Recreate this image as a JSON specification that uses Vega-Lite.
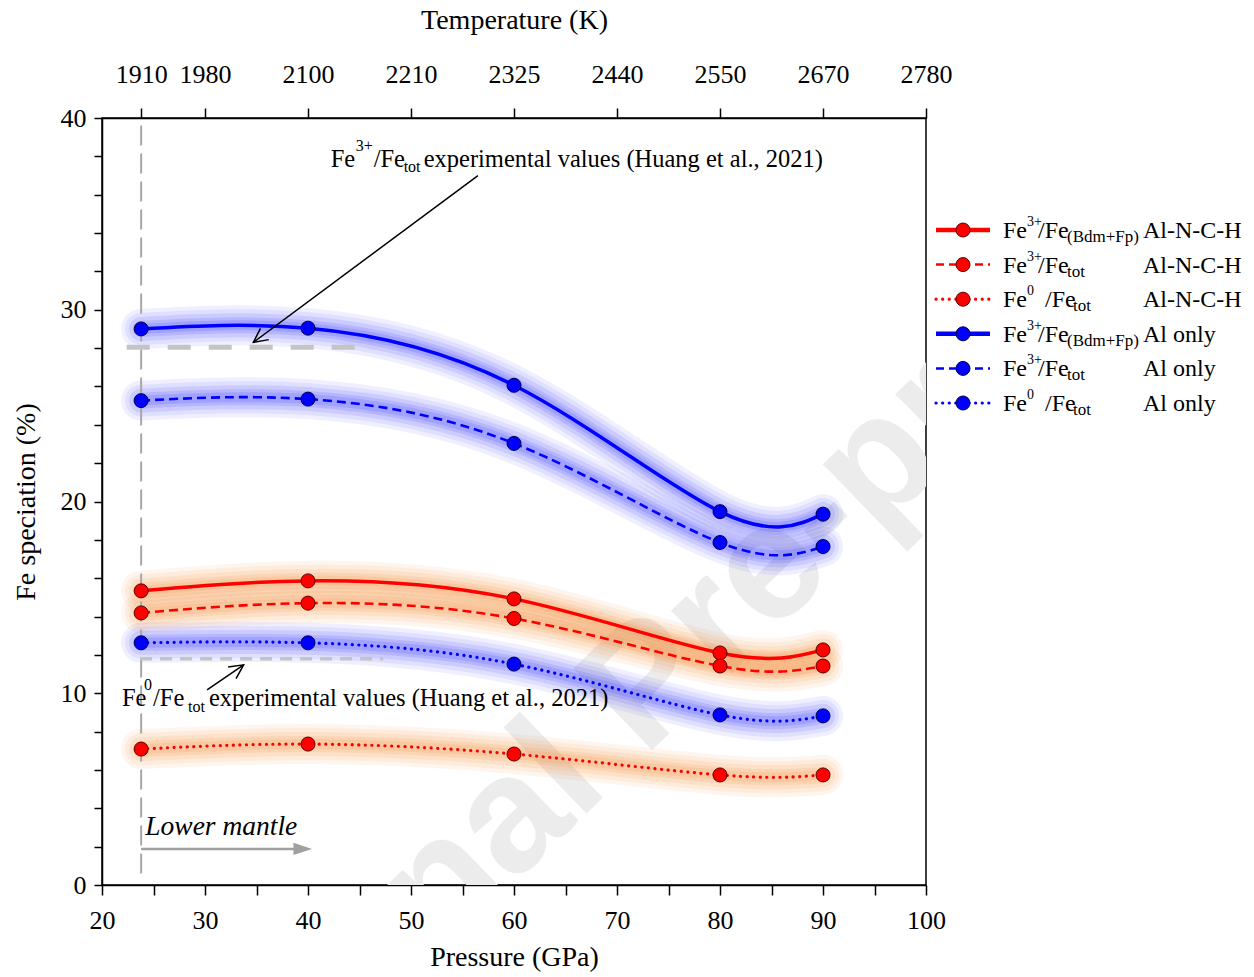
{
  "$schema": "https://vega.github.io/schema/vega-lite/v6.json",
  "background": "white",
  "padding": {"left": 11, "top": 5, "right": 5, "bottom": 5},
  "bounds": "flush",
  "spacing": 7,
  "config": {
    "font": "Liberation Serif",
    "view": {"stroke": null},
    "axis": {"domainColor": "#000", "domainWidth": 1.5, "tickColor": "#000", "tickWidth": 1.5, "labelFont": "Liberation Serif", "labelFontSize": 26, "labelColor": "#000", "titleFont": "Liberation Serif", "titleFontSize": 28, "titleFontWeight": "normal", "titleColor": "#000", "grid": false, "labelFlush": false, "labelOverlap": false},
    "text": {"font": "Liberation Serif", "color": "#000"}
  },
  "datasets": {
    "pts": [
      {"s": "A1", "g": "A", "st": "solid", "x": 23.8, "y": 15.34},
      {"s": "A1", "g": "A", "st": "solid", "x": 40, "y": 15.86},
      {"s": "A1", "g": "A", "st": "solid", "x": 60, "y": 14.92},
      {"s": "A1", "g": "A", "st": "solid", "x": 80, "y": 12.1},
      {"s": "A1", "g": "A", "st": "solid", "x": 90, "y": 12.26},
      {"s": "A2", "g": "A", "st": "dashed", "x": 23.8, "y": 14.19},
      {"s": "A2", "g": "A", "st": "dashed", "x": 40, "y": 14.7},
      {"s": "A2", "g": "A", "st": "dashed", "x": 60, "y": 13.9},
      {"s": "A2", "g": "A", "st": "dashed", "x": 80, "y": 11.42},
      {"s": "A2", "g": "A", "st": "dashed", "x": 90, "y": 11.42},
      {"s": "A3", "g": "A", "st": "dotted", "x": 23.8, "y": 7.09},
      {"s": "A3", "g": "A", "st": "dotted", "x": 40, "y": 7.35},
      {"s": "A3", "g": "A", "st": "dotted", "x": 60, "y": 6.83},
      {"s": "A3", "g": "A", "st": "dotted", "x": 80, "y": 5.74},
      {"s": "A3", "g": "A", "st": "dotted", "x": 90, "y": 5.74},
      {"s": "B1", "g": "B", "st": "solid", "x": 23.8, "y": 29.0},
      {"s": "B1", "g": "B", "st": "solid", "x": 40, "y": 29.04},
      {"s": "B1", "g": "B", "st": "solid", "x": 60, "y": 26.06},
      {"s": "B1", "g": "B", "st": "solid", "x": 80, "y": 19.47},
      {"s": "B1", "g": "B", "st": "solid", "x": 90, "y": 19.34},
      {"s": "B2", "g": "B", "st": "dashed", "x": 23.8, "y": 25.26},
      {"s": "B2", "g": "B", "st": "dashed", "x": 40, "y": 25.34},
      {"s": "B2", "g": "B", "st": "dashed", "x": 60, "y": 23.03},
      {"s": "B2", "g": "B", "st": "dashed", "x": 80, "y": 17.86},
      {"s": "B2", "g": "B", "st": "dashed", "x": 90, "y": 17.65},
      {"s": "B3", "g": "B", "st": "dotted", "x": 23.8, "y": 12.63},
      {"s": "B3", "g": "B", "st": "dotted", "x": 40, "y": 12.63},
      {"s": "B3", "g": "B", "st": "dotted", "x": 60, "y": 11.52},
      {"s": "B3", "g": "B", "st": "dotted", "x": 80, "y": 8.87},
      {"s": "B3", "g": "B", "st": "dotted", "x": 90, "y": 8.82}
    ],
    "segs": [
      {"id": "vline", "x": 23.8, "x2": 23.8, "y": 0.6, "y2": 40},
      {"id": "exp3", "x": 22.4, "x2": 44.8, "y": 28.05, "y2": 28.05},
      {"id": "exp0", "x": 23.7, "x2": 47.3, "y": 11.8, "y2": 11.8},
      {"id": "arr1", "x": 56.5, "x2": 34.7, "y": 37.0, "y2": 28.3},
      {"id": "arr2", "x": 30.2, "x2": 33.75, "y": 10.17, "y2": 11.48},
      {"id": "lm", "x": 23.8, "x2": 38.8, "y": 1.88, "y2": 1.88}
    ],
    "heads": [
      {"id": "h1", "x": 34.7, "y": 28.3},
      {"id": "h2", "x": 33.75, "y": 11.48},
      {"id": "h3", "x": 40.4, "y": 1.88}
    ],
    "notes": [
      {"id": "n1", "x": 42.2, "y": 37.45, "t1": "Fe", "t2": "3+", "t3": "/Fe", "t4": "tot", "t5": "experimental values (Huang et al., 2021)"},
      {"id": "n2", "x": 21.94, "y": 9.34, "t1": "Fe", "t2": "0", "t3": "/Fe", "t4": "tot", "t5": "experimental values (Huang et al., 2021)"},
      {"id": "lm", "x": 24.2, "y": 2.6, "t1": "Lower mantle"},
      {"id": "wm", "x": 76.0, "y": 12.0, "t1": "Journal Pre-proofs"}
    ],
    "leg": [
      {"s": "A1", "g": "A", "st": "solid", "k": "b", "sup": "3+", "sub": "(Bdm+Fp)", "grp": "Al-N-C-H"},
      {"s": "A2", "g": "A", "st": "dashed", "k": "t", "sup": "3+", "sub": "tot", "grp": "Al-N-C-H"},
      {"s": "A3", "g": "A", "st": "dotted", "k": "z", "sup": "0", "sub": "tot", "grp": "Al-N-C-H"},
      {"s": "B1", "g": "B", "st": "solid", "k": "b", "sup": "3+", "sub": "(Bdm+Fp)", "grp": "Al only"},
      {"s": "B2", "g": "B", "st": "dashed", "k": "t", "sup": "3+", "sub": "tot", "grp": "Al only"},
      {"s": "B3", "g": "B", "st": "dotted", "k": "z", "sup": "0", "sub": "tot", "grp": "Al only"}
    ]
  },
  "hconcat": [
    {
      "width": 824,
      "height": 767,
      "view": {"stroke": "#000", "strokeWidth": 1.5},
      "encoding": {
        "y": {"field": "y", "type": "quantitative", "scale": {"domain": [0, 40], "nice": false, "zero": false},
          "axis": {"orient": "left", "values": [0, 2, 4, 6, 8, 10, 12, 14, 16, 18, 20, 22, 24, 26, 28, 30, 32, 34, 36, 38, 40], "labelOverlap": false,
            "labelExpr": "datum.value % 10 === 0 ? datum.label : ' '", "title": "Fe speciation (%)", "tickSize": 8, "labelPadding": 8, "titlePadding": 20}}
      },
      "layer": [
        {
          "data": {"name": "notes"},
          "transform": [{"filter": "datum.id == 'wm'"}],
          "mark": {"type": "text", "font": "Liberation Sans", "fontSize": 165, "fontWeight": "bold", "color": "#ececec", "angle": -44, "align": "center", "baseline": "middle", "clip": true},
          "encoding": {
            "x": {"field": "x", "type": "quantitative", "scale": {"domain": [20, 100], "nice": false, "zero": false}, "axis": null},
            "text": {"field": "t1"}
          }
        },
        {
          "data": {"name": "pts"},
          "transform": [{"filter": "datum.g == 'B'"}],
          "mark": {"type": "line", "interpolate": "natural", "strokeWidth": 40, "opacity": 0.07, "color": "#2020ff", "strokeCap": "round", "strokeJoin": "round"},
          "encoding": {
            "x": {"field": "x", "type": "quantitative", "scale": {"domain": [20, 100], "nice": false, "zero": false}, "axis": null},
            "detail": {"field": "s"}
          }
        },
        {
          "data": {"name": "pts"},
          "transform": [{"filter": "datum.g == 'B'"}],
          "mark": {"type": "line", "interpolate": "natural", "strokeWidth": 32, "opacity": 0.08, "color": "#2020ff", "strokeCap": "round", "strokeJoin": "round"},
          "encoding": {
            "x": {"field": "x", "type": "quantitative", "scale": {"domain": [20, 100], "nice": false, "zero": false}, "axis": null},
            "detail": {"field": "s"}
          }
        },
        {
          "data": {"name": "pts"},
          "transform": [{"filter": "datum.g == 'B'"}],
          "mark": {"type": "line", "interpolate": "natural", "strokeWidth": 24, "opacity": 0.1, "color": "#2020ff", "strokeCap": "round", "strokeJoin": "round"},
          "encoding": {
            "x": {"field": "x", "type": "quantitative", "scale": {"domain": [20, 100], "nice": false, "zero": false}, "axis": null},
            "detail": {"field": "s"}
          }
        },
        {
          "data": {"name": "pts"},
          "transform": [{"filter": "datum.g == 'B'"}],
          "mark": {"type": "line", "interpolate": "natural", "strokeWidth": 16, "opacity": 0.12, "color": "#2020ff", "strokeCap": "round", "strokeJoin": "round"},
          "encoding": {
            "x": {"field": "x", "type": "quantitative", "scale": {"domain": [20, 100], "nice": false, "zero": false}, "axis": null},
            "detail": {"field": "s"}
          }
        },
        {
          "data": {"name": "pts"},
          "transform": [{"filter": "datum.g == 'B'"}],
          "mark": {"type": "line", "interpolate": "natural", "strokeWidth": 10, "opacity": 0.14, "color": "#2020ff", "strokeCap": "round", "strokeJoin": "round"},
          "encoding": {
            "x": {"field": "x", "type": "quantitative", "scale": {"domain": [20, 100], "nice": false, "zero": false}, "axis": null},
            "detail": {"field": "s"}
          }
        },
        {
          "data": {"name": "pts"},
          "transform": [{"filter": "datum.g == 'A'"}],
          "mark": {"type": "line", "interpolate": "natural", "strokeWidth": 40, "opacity": 0.09, "color": "#f5913f", "strokeCap": "round", "strokeJoin": "round"},
          "encoding": {
            "x": {"field": "x", "type": "quantitative", "scale": {"domain": [20, 100], "nice": false, "zero": false}, "axis": null},
            "detail": {"field": "s"}
          }
        },
        {
          "data": {"name": "pts"},
          "transform": [{"filter": "datum.g == 'A'"}],
          "mark": {"type": "line", "interpolate": "natural", "strokeWidth": 32, "opacity": 0.1, "color": "#f5913f", "strokeCap": "round", "strokeJoin": "round"},
          "encoding": {
            "x": {"field": "x", "type": "quantitative", "scale": {"domain": [20, 100], "nice": false, "zero": false}, "axis": null},
            "detail": {"field": "s"}
          }
        },
        {
          "data": {"name": "pts"},
          "transform": [{"filter": "datum.g == 'A'"}],
          "mark": {"type": "line", "interpolate": "natural", "strokeWidth": 24, "opacity": 0.12, "color": "#f5913f", "strokeCap": "round", "strokeJoin": "round"},
          "encoding": {
            "x": {"field": "x", "type": "quantitative", "scale": {"domain": [20, 100], "nice": false, "zero": false}, "axis": null},
            "detail": {"field": "s"}
          }
        },
        {
          "data": {"name": "pts"},
          "transform": [{"filter": "datum.g == 'A'"}],
          "mark": {"type": "line", "interpolate": "natural", "strokeWidth": 16, "opacity": 0.14, "color": "#f5913f", "strokeCap": "round", "strokeJoin": "round"},
          "encoding": {
            "x": {"field": "x", "type": "quantitative", "scale": {"domain": [20, 100], "nice": false, "zero": false}, "axis": null},
            "detail": {"field": "s"}
          }
        },
        {
          "data": {"name": "pts"},
          "transform": [{"filter": "datum.g == 'A'"}],
          "mark": {"type": "line", "interpolate": "natural", "strokeWidth": 10, "opacity": 0.16, "color": "#f5913f", "strokeCap": "round", "strokeJoin": "round"},
          "encoding": {
            "x": {"field": "x", "type": "quantitative", "scale": {"domain": [20, 100], "nice": false, "zero": false}, "axis": null},
            "detail": {"field": "s"}
          }
        },
        {
          "data": {"name": "segs"},
          "transform": [{"filter": "datum.id == 'vline'"}],
          "mark": {"type": "rule", "color": "#a8a8a8", "strokeWidth": 2, "strokeDash": [20, 8]},
          "encoding": {
            "x": {"field": "x", "type": "quantitative", "scale": {"domain": [20, 100], "nice": false, "zero": false},
              "axis": {"orient": "top", "values": [23.8, 30, 40, 50, 60, 70, 80, 90, 100], "labelOverlap": false,
                "labelExpr": "datum.value < 25 ? '1910' : datum.value == 30 ? '1980' : datum.value == 40 ? '2100' : datum.value == 50 ? '2210' : datum.value == 60 ? '2325' : datum.value == 70 ? '2440' : datum.value == 80 ? '2550' : datum.value == 90 ? '2670' : '2780'",
                "title": "Temperature (K)", "tickSize": 10, "labelPadding": 21, "titlePadding": 27}},
            "x2": {"field": "x2"},
            "y2": {"field": "y2"}
          }
        },
        {
          "data": {"name": "segs"},
          "transform": [{"filter": "datum.id == 'exp3'"}],
          "mark": {"type": "rule", "color": "#c4c4c4", "strokeWidth": 5, "strokeDash": [23, 18]},
          "encoding": {
            "x": {"field": "x", "type": "quantitative", "scale": {"domain": [20, 100], "nice": false, "zero": false}, "axis": null},
            "x2": {"field": "x2"},
            "y2": {"field": "y2"}
          }
        },
        {
          "data": {"name": "segs"},
          "transform": [{"filter": "datum.id == 'exp0'"}],
          "mark": {"type": "rule", "color": "#c4c4c4", "strokeWidth": 3.5, "strokeDash": [12, 8]},
          "encoding": {
            "x": {"field": "x", "type": "quantitative", "scale": {"domain": [20, 100], "nice": false, "zero": false}, "axis": null},
            "x2": {"field": "x2"},
            "y2": {"field": "y2"}
          }
        },
        {
          "data": {"name": "pts"},
          "transform": [{"filter": "datum.st == 'solid'"}],
          "mark": {"type": "line", "interpolate": "natural", "strokeWidth": 3.5},
          "encoding": {
            "x": {"field": "x", "type": "quantitative", "scale": {"domain": [20, 100], "nice": false, "zero": false}, "axis": null},
            "color": {"field": "g", "type": "nominal", "scale": {"domain": ["A", "B"], "range": ["#ff0000", "#0000ff"]}, "legend": null},
            "detail": {"field": "s"}
          }
        },
        {
          "data": {"name": "pts"},
          "transform": [{"filter": "datum.st == 'dashed'"}],
          "mark": {"type": "line", "interpolate": "natural", "strokeWidth": 2.6, "strokeDash": [9, 5]},
          "encoding": {
            "x": {"field": "x", "type": "quantitative", "scale": {"domain": [20, 100], "nice": false, "zero": false}, "axis": null},
            "color": {"field": "g", "type": "nominal", "scale": {"domain": ["A", "B"], "range": ["#ff0000", "#0000ff"]}, "legend": null},
            "detail": {"field": "s"}
          }
        },
        {
          "data": {"name": "pts"},
          "transform": [{"filter": "datum.st == 'dotted'"}],
          "mark": {"type": "line", "interpolate": "natural", "strokeWidth": 3.2, "strokeDash": [0.1, 6.5], "strokeCap": "round"},
          "encoding": {
            "x": {"field": "x", "type": "quantitative", "scale": {"domain": [20, 100], "nice": false, "zero": false}, "axis": null},
            "color": {"field": "g", "type": "nominal", "scale": {"domain": ["A", "B"], "range": ["#ff0000", "#0000ff"]}, "legend": null},
            "detail": {"field": "s"}
          }
        },
        {
          "data": {"name": "pts"},
          "mark": {"type": "point", "filled": true, "size": 196, "opacity": 1, "strokeWidth": 1},
          "encoding": {
            "x": {"field": "x", "type": "quantitative", "scale": {"domain": [20, 100], "nice": false, "zero": false},
              "axis": {"orient": "bottom", "values": [20, 25, 30, 35, 40, 45, 50, 55, 60, 65, 70, 75, 80, 85, 90, 95, 100], "labelOverlap": false,
                "labelExpr": "datum.value % 10 === 0 ? datum.label : ' '", "title": "Pressure (GPa)", "tickSize": 10, "labelPadding": 12, "titlePadding": 10}},
            "fill": {"field": "g", "type": "nominal", "scale": {"domain": ["A", "B"], "range": ["#ff0000", "#0000ff"]}, "legend": null},
            "stroke": {"field": "g", "type": "nominal", "scale": {"domain": ["A", "B"], "range": ["#5a0000", "#00004a"]}, "legend": null}
          }
        },
        {
          "data": {"name": "segs"},
          "transform": [{"filter": "datum.id == 'arr1' || datum.id == 'arr2'"}],
          "mark": {"type": "rule", "color": "#000", "strokeWidth": 1.5},
          "encoding": {
            "x": {"field": "x", "type": "quantitative", "scale": {"domain": [20, 100], "nice": false, "zero": false}, "axis": null},
            "x2": {"field": "x2"},
            "y2": {"field": "y2"}
          }
        },
        {
          "data": {"name": "segs"},
          "transform": [{"filter": "datum.id == 'lm'"}],
          "mark": {"type": "rule", "color": "#a0a0a0", "strokeWidth": 2.5},
          "encoding": {
            "x": {"field": "x", "type": "quantitative", "scale": {"domain": [20, 100], "nice": false, "zero": false}, "axis": null},
            "x2": {"field": "x2"},
            "y2": {"field": "y2"}
          }
        },
        {
          "data": {"name": "heads"},
          "transform": [{"filter": "datum.id == 'h1'"}],
          "mark": {"type": "point", "shape": "M-1,-0.5L0,0L-1,0.5", "size": 784, "filled": false, "color": "#000", "strokeWidth": 1.5, "opacity": 1, "angle": 143.4},
          "encoding": {
            "x": {"field": "x", "type": "quantitative", "scale": {"domain": [20, 100], "nice": false, "zero": false}, "axis": null}
          }
        },
        {
          "data": {"name": "heads"},
          "transform": [{"filter": "datum.id == 'h2'"}],
          "mark": {"type": "point", "shape": "M-1,-0.5L0,0L-1,0.5", "size": 784, "filled": false, "color": "#000", "strokeWidth": 1.5, "opacity": 1, "angle": -34.4},
          "encoding": {
            "x": {"field": "x", "type": "quantitative", "scale": {"domain": [20, 100], "nice": false, "zero": false}, "axis": null}
          }
        },
        {
          "data": {"name": "heads"},
          "transform": [{"filter": "datum.id == 'h3'"}],
          "mark": {"type": "point", "shape": "M0,0L-1,-0.33L-1,0.33Z", "size": 1400, "filled": true, "color": "#a0a0a0", "opacity": 1},
          "encoding": {
            "x": {"field": "x", "type": "quantitative", "scale": {"domain": [20, 100], "nice": false, "zero": false}, "axis": null}
          }
        },
        {
          "data": {"name": "notes"},
          "transform": [{"filter": "datum.id == 'lm'"}],
          "mark": {"type": "text", "fontSize": 27.5, "fontStyle": "italic", "align": "left", "baseline": "alphabetic"},
          "encoding": {
            "x": {"field": "x", "type": "quantitative", "scale": {"domain": [20, 100], "nice": false, "zero": false}, "axis": null},
            "text": {"field": "t1"}
          }
        },
        {
          "data": {"name": "notes"},
          "transform": [{"filter": "datum.id == 'n1' || datum.id == 'n2'"}],
          "mark": {"type": "text", "fontSize": 24.5, "align": "left", "baseline": "alphabetic"},
          "encoding": {
            "x": {"field": "x", "type": "quantitative", "scale": {"domain": [20, 100], "nice": false, "zero": false}, "axis": null},
            "text": {"field": "t1"}
          }
        },
        {
          "data": {"name": "notes"},
          "transform": [{"filter": "datum.id == 'n1'"}],
          "mark": {"type": "text", "fontSize": 16, "align": "left", "baseline": "alphabetic", "dx": 25, "dy": -16},
          "encoding": {
            "x": {"field": "x", "type": "quantitative", "scale": {"domain": [20, 100], "nice": false, "zero": false}, "axis": null},
            "text": {"field": "t2"}
          }
        },
        {
          "data": {"name": "notes"},
          "transform": [{"filter": "datum.id == 'n1'"}],
          "mark": {"type": "text", "fontSize": 24.5, "align": "left", "baseline": "alphabetic", "dx": 43},
          "encoding": {
            "x": {"field": "x", "type": "quantitative", "scale": {"domain": [20, 100], "nice": false, "zero": false}, "axis": null},
            "text": {"field": "t3"}
          }
        },
        {
          "data": {"name": "notes"},
          "transform": [{"filter": "datum.id == 'n1'"}],
          "mark": {"type": "text", "fontSize": 16, "align": "left", "baseline": "alphabetic", "dx": 73, "dy": 5},
          "encoding": {
            "x": {"field": "x", "type": "quantitative", "scale": {"domain": [20, 100], "nice": false, "zero": false}, "axis": null},
            "text": {"field": "t4"}
          }
        },
        {
          "data": {"name": "notes"},
          "transform": [{"filter": "datum.id == 'n1'"}],
          "mark": {"type": "text", "fontSize": 24.5, "align": "left", "baseline": "alphabetic", "dx": 93},
          "encoding": {
            "x": {"field": "x", "type": "quantitative", "scale": {"domain": [20, 100], "nice": false, "zero": false}, "axis": null},
            "text": {"field": "t5"}
          }
        },
        {
          "data": {"name": "notes"},
          "transform": [{"filter": "datum.id == 'n2'"}],
          "mark": {"type": "text", "fontSize": 16, "align": "left", "baseline": "alphabetic", "dx": 22, "dy": -16},
          "encoding": {
            "x": {"field": "x", "type": "quantitative", "scale": {"domain": [20, 100], "nice": false, "zero": false}, "axis": null},
            "text": {"field": "t2"}
          }
        },
        {
          "data": {"name": "notes"},
          "transform": [{"filter": "datum.id == 'n2'"}],
          "mark": {"type": "text", "fontSize": 24.5, "align": "left", "baseline": "alphabetic", "dx": 31},
          "encoding": {
            "x": {"field": "x", "type": "quantitative", "scale": {"domain": [20, 100], "nice": false, "zero": false}, "axis": null},
            "text": {"field": "t3"}
          }
        },
        {
          "data": {"name": "notes"},
          "transform": [{"filter": "datum.id == 'n2'"}],
          "mark": {"type": "text", "fontSize": 16, "align": "left", "baseline": "alphabetic", "dx": 66, "dy": 6},
          "encoding": {
            "x": {"field": "x", "type": "quantitative", "scale": {"domain": [20, 100], "nice": false, "zero": false}, "axis": null},
            "text": {"field": "t4"}
          }
        },
        {
          "data": {"name": "notes"},
          "transform": [{"filter": "datum.id == 'n2'"}],
          "mark": {"type": "text", "fontSize": 24.5, "align": "left", "baseline": "alphabetic", "dx": 87},
          "encoding": {
            "x": {"field": "x", "type": "quantitative", "scale": {"domain": [20, 100], "nice": false, "zero": false}, "axis": null},
            "text": {"field": "t5"}
          }
        }
      ]
    },
    {
      "width": 60,
      "height": 397,
      "view": {"stroke": null},
      "data": {"name": "leg"},
      "encoding": {
        "y": {"field": "s", "type": "ordinal", "scale": {"type": "point", "domain": ["A1", "A2", "A3", "B1", "B2", "B3"], "range": [112, 285], "padding": 0}, "axis": null}
      },
      "layer": [
        {
          "transform": [{"filter": "datum.st == 'solid'"}],
          "mark": {"type": "point", "shape": "M-1,0L1,0", "size": 2916, "filled": false, "strokeWidth": 4.5, "opacity": 1},
          "encoding": {"color": {"field": "g", "type": "nominal", "scale": {"domain": ["A", "B"], "range": ["#ff0000", "#0000ff"]}, "legend": null}}
        },
        {
          "transform": [{"filter": "datum.st == 'dashed'"}],
          "mark": {"type": "point", "shape": "M-1,0L1,0", "size": 2916, "filled": false, "strokeWidth": 2.5, "strokeDash": [8, 5], "opacity": 1},
          "encoding": {"color": {"field": "g", "type": "nominal", "scale": {"domain": ["A", "B"], "range": ["#ff0000", "#0000ff"]}, "legend": null}}
        },
        {
          "transform": [{"filter": "datum.st == 'dotted'"}],
          "mark": {"type": "point", "shape": "M-1,0L1,0", "size": 2916, "filled": false, "strokeWidth": 3.2, "strokeDash": [0.1, 6.5], "strokeCap": "round", "opacity": 1},
          "encoding": {"color": {"field": "g", "type": "nominal", "scale": {"domain": ["A", "B"], "range": ["#ff0000", "#0000ff"]}, "legend": null}}
        },
        {
          "mark": {"type": "point", "filled": true, "size": 196, "opacity": 1, "strokeWidth": 1},
          "encoding": {
            "fill": {"field": "g", "type": "nominal", "scale": {"domain": ["A", "B"], "range": ["#ff0000", "#0000ff"]}, "legend": null},
            "stroke": {"field": "g", "type": "nominal", "scale": {"domain": ["A", "B"], "range": ["#5a0000", "#00004a"]}, "legend": null}
          }
        },
        {
          "mark": {"type": "text", "text": "Fe", "fontSize": 24, "align": "left", "baseline": "alphabetic", "dx": 40, "dy": 8}
        },
        {
          "mark": {"type": "text", "fontSize": 14, "align": "left", "baseline": "alphabetic", "dx": 64, "dy": -4},
          "encoding": {"text": {"field": "sup"}}
        },
        {
          "transform": [{"filter": "datum.k != 'z'"}],
          "mark": {"type": "text", "text": "/Fe", "fontSize": 24, "align": "left", "baseline": "alphabetic", "dx": 75, "dy": 8}
        },
        {
          "transform": [{"filter": "datum.k == 'z'"}],
          "mark": {"type": "text", "text": "/Fe", "fontSize": 24, "align": "left", "baseline": "alphabetic", "dx": 82, "dy": 8}
        },
        {
          "transform": [{"filter": "datum.k != 'z'"}],
          "mark": {"type": "text", "fontSize": 17, "align": "left", "baseline": "alphabetic", "dx": 104, "dy": 12},
          "encoding": {"text": {"field": "sub"}}
        },
        {
          "transform": [{"filter": "datum.k == 'z'"}],
          "mark": {"type": "text", "fontSize": 17, "align": "left", "baseline": "alphabetic", "dx": 110, "dy": 12},
          "encoding": {"text": {"field": "sub"}}
        },
        {
          "mark": {"type": "text", "fontSize": 24, "align": "left", "baseline": "alphabetic", "dx": 180, "dy": 8},
          "encoding": {"text": {"field": "grp"}}
        }
      ]
    }
  ]
}
